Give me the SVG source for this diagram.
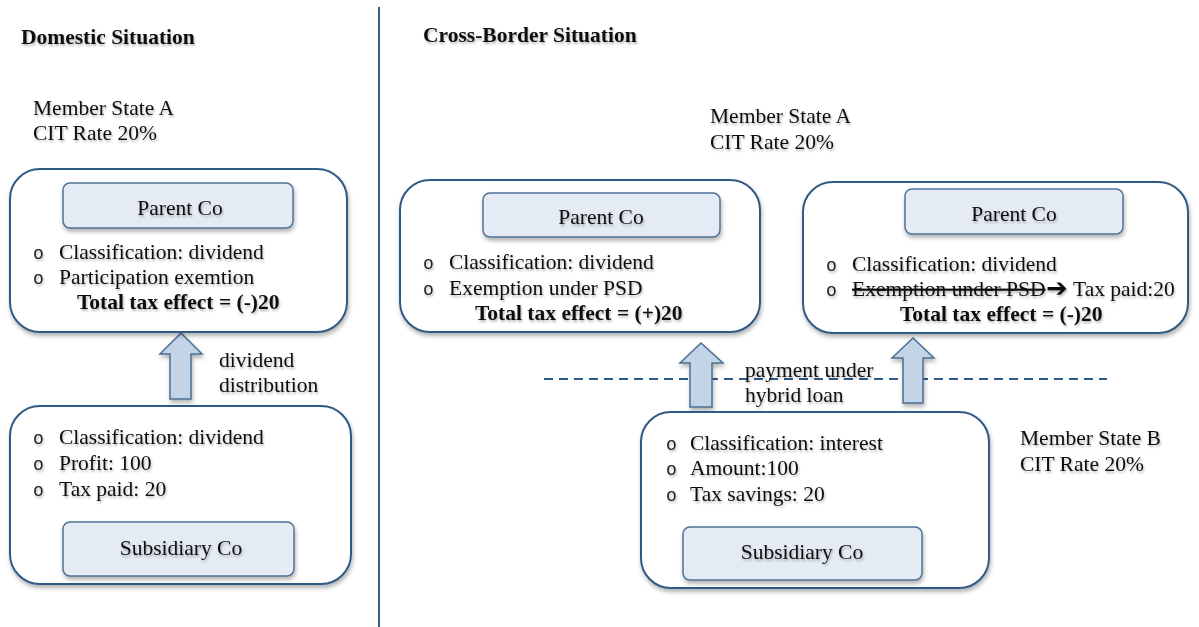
<svg xmlns="http://www.w3.org/2000/svg" width="1199" height="627" viewBox="0 0 1199 627">
<defs>
<filter id="sh" x="-10%" y="-10%" width="120%" height="130%">
<feDropShadow dx="1" dy="3" stdDeviation="2" flood-color="#000" flood-opacity="0.3"/>
</filter>
<filter id="tsh" x="-5%" y="-20%" width="110%" height="150%">
<feDropShadow dx="1" dy="2" stdDeviation="1.2" flood-color="#000" flood-opacity="0.28"/>
</filter>
</defs>
<style>
.outer{fill:#fff;stroke:#2f5a84;stroke-width:2}
.inner{fill:#e4ebf4;stroke:#4f7196;stroke-width:1.5}
.arr{fill:#c3d4e6;stroke:#4a6f94;stroke-width:1.5}
text{font-family:"Liberation Serif","Times New Roman",serif;font-size:21.5px;fill:#111}
.b{font-weight:bold}
.c{text-anchor:middle}
.bul{font-family:"Liberation Mono","Courier New",monospace;font-size:18px;fill:#222}
.t{filter:url(#tsh)}
</style>
<rect width="1199" height="627" fill="#fff"/>

<g id="separators">
<line x1="379" y1="7" x2="379" y2="627" stroke="#3a5f86" stroke-width="2"/>
<line x1="544" y1="379" x2="1107" y2="379" stroke="#2f5a84" stroke-width="2" stroke-dasharray="9,6"/>
</g>

<g id="labels" class="t">
<text x="21" y="44" class="b">Domestic Situation</text>
<text x="423" y="42" class="b">Cross-Border Situation</text>
<text x="33" y="115">Member State A</text>
<text x="33" y="140">CIT Rate 20%</text>
<text x="710" y="123">Member State A</text>
<text x="710" y="149">CIT Rate 20%</text>
<text x="1020" y="445">Member State B</text>
<text x="1020" y="471">CIT Rate 20%</text>
<text x="219" y="367">dividend</text>
<text x="219" y="392">distribution</text>
<text x="745" y="377">payment under</text>
<text x="745" y="402">hybrid loan</text>
</g>

<g id="connectors">
<path class="arr" d="M170,399 L170,354 L160,354 L181,333 L202,354 L191,354 L191,399 Z" filter="url(#sh)"/>
<path class="arr" d="M690,407 L690,363 L680,363 L701,343 L723,363 L712,363 L712,407 Z" filter="url(#sh)"/>
<path class="arr" d="M903,403 L903,358 L892,358 L913,338 L934,358 L923,358 L923,403 Z" filter="url(#sh)"/>
</g>

<g id="domestic-parent">
<rect class="outer" x="10" y="169" width="337" height="163" rx="30" filter="url(#sh)"/>
<rect class="inner" x="63" y="183" width="230" height="45" rx="7" filter="url(#sh)"/>
<g class="t">
<text x="33" y="259" class="bul">o</text>
<text x="180" y="215" class="c">Parent Co</text>
<text x="59" y="259">Classification: dividend</text>
<text x="33" y="284" class="bul">o</text>
<text x="59" y="284">Participation exemtion</text>
<text x="77" y="309" class="b">Total tax effect = (-)20</text>
</g>
</g>

<g id="domestic-subsidiary">
<rect class="outer" x="10" y="406" width="341" height="178" rx="30" filter="url(#sh)"/>
<rect class="inner" x="63" y="522" width="231" height="54" rx="7" filter="url(#sh)"/>
<g class="t">
<text x="33" y="444" class="bul">o</text>
<text x="59" y="444">Classification: dividend</text>
<text x="33" y="470" class="bul">o</text>
<text x="59" y="470">Profit: 100</text>
<text x="33" y="496" class="bul">o</text>
<text x="59" y="496">Tax paid: 20</text>
<text x="181" y="555" class="c">Subsidiary Co</text>
</g>
</g>

<g id="cross-parent-psd">
<rect class="outer" x="400" y="180" width="360" height="152" rx="30" filter="url(#sh)"/>
<rect class="inner" x="483" y="193" width="237" height="44" rx="7" filter="url(#sh)"/>
<g class="t">
<text x="601" y="224" class="c">Parent Co</text>
<text x="423" y="269" class="bul">o</text>
<text x="449" y="269">Classification: dividend</text>
<text x="423" y="295" class="bul">o</text>
<text x="449" y="295">Exemption under PSD</text>
<text x="475" y="320" class="b">Total tax effect = (+)20</text>
</g>
</g>

<g id="cross-parent-taxed">
<rect class="outer" x="803" y="182" width="385" height="151" rx="30" filter="url(#sh)"/>
<rect class="inner" x="905" y="189" width="218" height="45" rx="7" filter="url(#sh)"/>
<g class="t">
<text x="1014" y="221" class="c">Parent Co</text>
<text x="826" y="271" class="bul">o</text>
<text x="852" y="271">Classification: dividend</text>
<text x="826" y="296" class="bul">o</text>
<text x="852" y="296" text-decoration="line-through">Exemption under PSD</text>
<text x="1046" y="297" style="font-family:'DejaVu Sans',sans-serif;font-size:26px;font-weight:bold">➔</text>
<text x="1073" y="296">Tax paid:20</text>
<text x="900" y="321" class="b">Total tax effect = (-)20</text>
</g>
</g>

<g id="cross-subsidiary">
<rect class="outer" x="641" y="412" width="348" height="176" rx="30" filter="url(#sh)"/>
<rect class="inner" x="683" y="527" width="239" height="53" rx="7" filter="url(#sh)"/>
<g class="t">
<text x="666" y="450" class="bul">o</text>
<text x="690" y="450">Classification: interest</text>
<text x="666" y="475" class="bul">o</text>
<text x="690" y="475">Amount:100</text>
<text x="666" y="501" class="bul">o</text>
<text x="690" y="501">Tax savings: 20</text>
<text x="802" y="559" class="c">Subsidiary Co</text>
</g>
</g>
</svg>
